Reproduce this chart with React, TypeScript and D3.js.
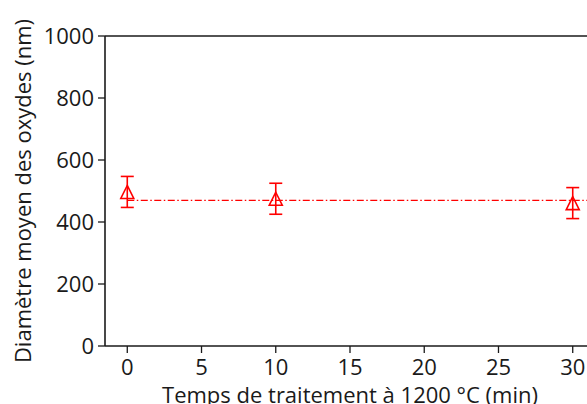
import React from "react";
import * as d3 from "d3";

const times = [0, 10, 30];
const diameters = [497, 475, 461];
const errors = [50, 50, 50];
const meanDiameter = 470;
const xTicks = [0, 5, 10, 15, 20, 25, 30];
const yTicks = [0, 200, 400, 600, 800, 1000];
const xLabel = "Temps de traitement à 1200 °C (min)";
const yLabel = "Diamètre moyen des oxydes (nm)";

const W = 587;
const H = 404;
const left = 105;
const right = 595;
const top = 36;
const bottom = 346;
const font = "'Open Sans', sans-serif";
const fs = 22;
const ink = "#1a1a1a";
const red = "#ff0000";

export default function App() {
  const x = d3.scaleLinear().domain([-1.5, 31.5]).range([left, right]);
  const y = d3.scaleLinear().domain([0, 1000]).range([bottom, top]);
  const s = 6.5;
  const triPath = `M0,${-s}L${s},${s}L${-s},${s}Z`;

  return (
    <svg
      width={W}
      height={H}
      style={{ position: "absolute", left: 0, top: 0, background: "#fff" }}
      fontFamily={font}
    >
      <rect x={0} y={0} width={W} height={H} fill="#fff" />
      <line
        x1={x(0)}
        x2={x(31.5)}
        y1={y(meanDiameter)}
        y2={y(meanDiameter)}
        stroke={red}
        strokeWidth={1.3}
        strokeDasharray="7,2.5,1.5,2.5"
      />
      {times.map((t, i) => {
        const cx = x(t);
        const cy = y(diameters[i]);
        const y1 = y(diameters[i] + errors[i]);
        const y0 = y(diameters[i] - errors[i]);
        return (
          <g key={i} stroke={red} strokeWidth={1.6} fill="none">
            <line x1={cx} x2={cx} y1={y1} y2={y0} />
            <line x1={cx - 6.5} x2={cx + 6.5} y1={y1} y2={y1} />
            <line x1={cx - 6.5} x2={cx + 6.5} y1={y0} y2={y0} />
            <path d={triPath} transform={`translate(${cx},${cy})`} />
          </g>
        );
      })}
      <g stroke={ink} strokeWidth={1.6} fill="none">
        <line x1={left} x2={left} y1={top} y2={bottom} />
        <line x1={left} x2={W + 20} y1={bottom} y2={bottom} />
        <line x1={left} x2={W + 20} y1={top} y2={top} />
      </g>
      {yTicks.map((v) => (
        <g key={v}>
          <line x1={left - 7} x2={left} y1={y(v)} y2={y(v)} stroke={ink} strokeWidth={1.3} />
          <text
            x={94}
            y={y(v)}
            dy="0.36em"
            textAnchor="end"
            fontSize={fs}
            fill={ink}
          >
            {v}
          </text>
        </g>
      ))}
      {xTicks.map((v) => (
        <g key={v}>
          <line x1={x(v)} x2={x(v)} y1={bottom} y2={bottom + 7} stroke={ink} strokeWidth={1.3} />
          <text x={x(v)} y={375} textAnchor="middle" fontSize={fs} fill={ink}>
            {v}
          </text>
        </g>
      ))}
      <text x={(left + right) / 2} y={403} textAnchor="middle" fontSize={fs} fill={ink}>
        {xLabel}
      </text>
      <text
        transform={`translate(31,${(top + bottom) / 2}) rotate(-90)`}
        textAnchor="middle"
        fontSize={fs}
        fill={ink}
      >
        {yLabel}
      </text>
    </svg>
  );
}
